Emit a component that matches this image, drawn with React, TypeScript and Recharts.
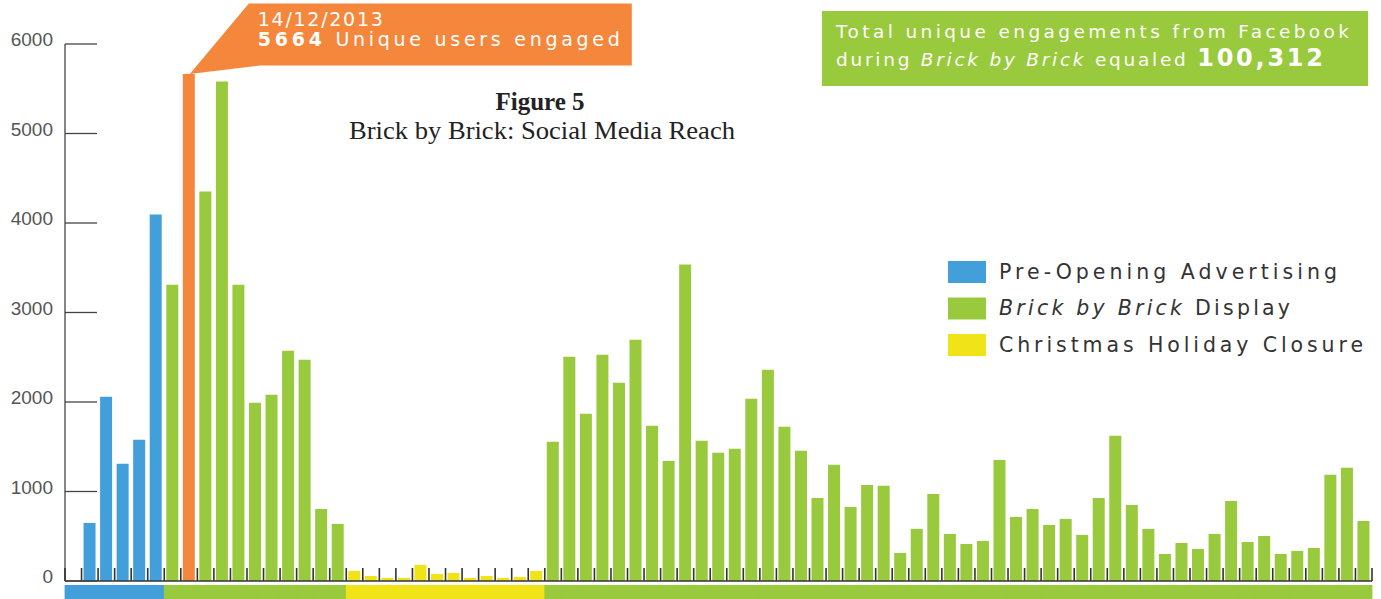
import React from 'react';
import { BarChart, Bar, XAxis, YAxis, Cell, LabelList, Legend } from 'recharts';

// ---- data ----
const preOpening: (number | null)[] = [null, 649, 2058, 1309, 1577, 4094];
const displayBefore: number[] = [3311, 5664, 4351, 5582, 3311, 1991, 2081, 2573, 2472, 805, 638];
const holidayClosure: number[] = [112, 56, 34, 34, 180, 78, 90, 34, 56, 34, 45, 112];
const displayAfter: number[] = [
  1555, 2505, 1868, 2528, 2215, 2696, 1734, 1342, 3535, 1566,
  1432, 1477, 2036, 2360, 1723, 1454, 928, 1298, 828, 1074,
  1063, 313, 582, 973, 526, 414, 447, 1353, 716, 805,
  626, 694, 515, 928, 1622, 850, 582, 302, 425, 358,
  526, 895, 436, 503, 302, 336, 369, 1186, 1264, 671,
];
const yTicks = [0, 1000, 2000, 3000, 4000, 5000, 6000];
const highlightDate = '14/12/2013';
const highlightValue = 5664;
const totalEngagements = '100,312';
const legendItems = [
  { phase: 'pre', label: ['', 'Pre-Opening Advertising'] },
  { phase: 'display', label: ['Brick by Brick', ' Display'] },
  { phase: 'holiday', label: ['', 'Christmas Holiday Closure'] },
];

const COLORS: Record<string, string> = {
  pre: '#429FD9',
  display: '#99C93C',
  holiday: '#F0E317',
  highlight: '#F5873D',
};

const segments = [
  { phase: 'pre', values: preOpening },
  { phase: 'display', values: displayBefore },
  { phase: 'holiday', values: holidayClosure },
  { phase: 'display', values: displayAfter },
];

const data = segments
  .flatMap((s) => s.values.map((v) => ({ value: v, phase: s.phase })))
  .map((d, i) => ({ ...d, slot: i, highlight: d.value === highlightValue }));

// ---- layout ----
const W = 1381;
const H = 599;
const MARGIN = { top: 44, right: 9, bottom: 0, left: 0 };
const Y_W = 65;
const X_H = 18;
const BW = (W - MARGIN.left - MARGIN.right - Y_W) / data.length;
const SANS = '"Liberation Sans", Arial, Helvetica, sans-serif';
const WIDE = '"DejaVu Sans", "Liberation Sans", Arial, sans-serif';
const SERIF = '"Liberation Serif", "Times New Roman", serif';

const XTick = (props: any) => {
  const { x, y, payload } = props;
  const i = Number(payload.value);
  const d = data[i];
  const cx = Number(x);
  const cy = Number(y);
  const left = cx - BW / 2;
  return (
    <g>
      <rect x={left - 0.4} y={cy + 4} width={BW + 0.8} height={14} fill={COLORS[d.phase]} />
      <line x1={left} x2={left} y1={cy - 13} y2={cy} stroke="#333" strokeWidth={1.6} />
      {i === data.length - 1 && (
        <line x1={left + BW} x2={left + BW} y1={cy - 13} y2={cy} stroke="#333" strokeWidth={1.6} />
      )}
    </g>
  );
};

const YTick = (props: any) => {
  const { x, y, payload } = props;
  const ax = Number(x);
  const ay = Number(y);
  return (
    <g>
      <line x1={ax} x2={ax + 32} y1={ay} y2={ay} stroke="#444" strokeWidth={1.3} />
      <text x={ax - 12} y={ay + 2} textAnchor="end" fontFamily={SANS} fontSize={19} fill="#555">
        {payload.value}
      </text>
    </g>
  );
};

const Callout = (props: any) => {
  const { x, y, width, value } = props;
  if (Number(value) !== highlightValue) return null;
  const cx = Number(x) + Number(width) / 2;
  const ty = Number(y);
  const pts = [
    [cx + 60, ty - 70.6],
    [cx + 443, ty - 70.6],
    [cx + 443, ty - 8.6],
    [cx + 71, ty - 8.6],
    [cx + 1, ty],
  ]
    .map((p) => p.join(','))
    .join(' ');
  return (
    <g>
      <polygon points={pts} fill={COLORS.highlight} />
      <text x={cx + 69} y={ty - 47.8} fontFamily={WIDE} fontSize={19} fill="#fff" textLength={125} lengthAdjust="spacing">
        {highlightDate}
      </text>
      <text x={cx + 69} y={ty - 28.5} fontFamily={WIDE} fontSize={19} fill="#fff" textLength={362} lengthAdjust="spacing">
        <tspan fontWeight="bold">{value}</tspan>
        <tspan> Unique users engaged</tspan>
      </text>
    </g>
  );
};

const LegendContent = () => (
  <svg width={440} height={120} style={{ display: 'block' }}>
    {legendItems.map((item, k) => {
      const top = 11 + k * 36.5;
      return (
        <g key={item.phase}>
          <rect x={8} y={top} width={38} height={22} fill={COLORS[item.phase]} />
          <text
            x={59}
            y={top + 17.5}
            fontFamily={WIDE}
            fontSize={20.5}
            fill="#333"
            textLength={[338, 291, 364][k]}
            lengthAdjust="spacing"
          >
            {item.label[0] && <tspan fontStyle="italic">{item.label[0]}</tspan>}
            <tspan>{item.label[1]}</tspan>
          </text>
        </g>
      );
    })}
  </svg>
);

export default function App() {
  return (
    <div style={{ position: 'absolute', left: 0, top: 0, width: W, height: H, background: '#fff' }}>
      <BarChart width={W} height={H} data={data} margin={MARGIN} barSize={12}>
        <XAxis
          dataKey="slot"
          interval={0}
          height={X_H}
          tickLine={false}
          tickSize={0}
          tickMargin={0}
          axisLine={{ stroke: '#333', strokeWidth: 1.6 }}
          tick={<XTick />}
        />
        <YAxis
          domain={[0, 6000]}
          ticks={yTicks}
          width={Y_W}
          tickLine={false}
          tickSize={0}
          tickMargin={0}
          axisLine={{ stroke: '#444', strokeWidth: 1.3 }}
          tick={<YTick />}
        />
        <Legend
          layout="vertical"
          align="center"
          verticalAlign="middle"
          wrapperStyle={{ left: 940, top: 250, width: 440, height: 120 }}
          content={() => <LegendContent />}
        />
        <Bar dataKey="value" isAnimationActive={false}>
          {data.map((d) => (
            <Cell key={d.slot} fill={d.highlight ? COLORS.highlight : COLORS[d.phase]} />
          ))}
          <LabelList dataKey="value" content={<Callout />} />
        </Bar>
      </BarChart>
      <svg
        width={W}
        height={H}
        style={{ position: 'absolute', left: 0, top: 0, pointerEvents: 'none' }}
      >
        <text x={540} y={110} textAnchor="middle" fontFamily={SERIF} fontWeight="bold" fontSize={25} fill="#222">
          Figure 5
        </text>
        <text x={349} y={139} fontFamily={SERIF} fontSize={25} fill="#222" textLength={386} lengthAdjust="spacingAndGlyphs">
          Brick by Brick: Social Media Reach
        </text>
        <rect x={822} y={11} width={546} height={75} fill={COLORS.display} />
        <text x={836} y={38} fontFamily={WIDE} fontSize={18.5} fill="#fff" textLength={513} lengthAdjust="spacing">
          Total unique engagements from Facebook
        </text>
        <text x={836} y={66} fontFamily={WIDE} fontSize={18.5} fill="#fff" textLength={487} lengthAdjust="spacing">
          <tspan>during </tspan>
          <tspan fontStyle="italic">Brick by Brick</tspan>
          <tspan> equaled </tspan>
          <tspan fontWeight="bold" fontSize={24}>{totalEngagements}</tspan>
        </text>
      </svg>
    </div>
  );
}
